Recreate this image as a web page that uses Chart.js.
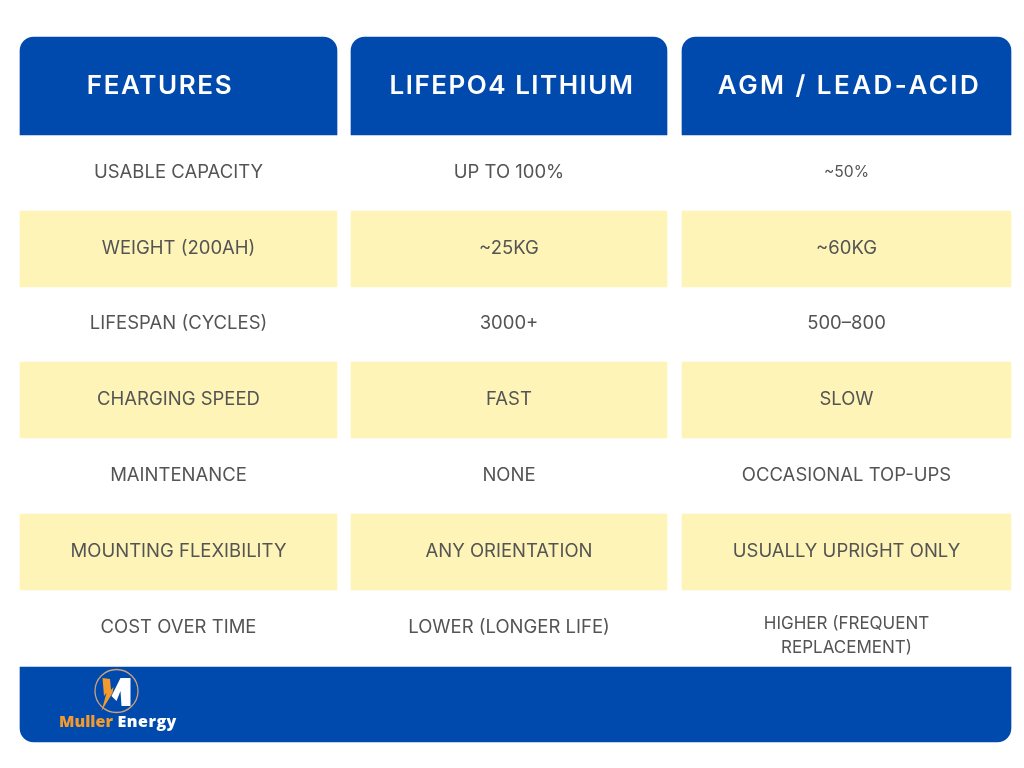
<!DOCTYPE html>
<html>
<head>
<meta charset="utf-8">
<style>
  html, body { margin: 0; padding: 0; background: #ffffff; }
  #wrap { width: 1024px; height: 768px; }
</style>
<script src="https://cdn.jsdelivr.net/npm/chart.js@4"></script>
</head>
<body>
<div id="wrap"><canvas id="table-chart" width="1024" height="768"></canvas></div>
<script>
// Table content
const columns = ['FEATURES', 'LIFEPO4 LITHIUM', 'AGM / LEAD-ACID'];
const features = ['USABLE CAPACITY', 'WEIGHT (200AH)', 'LIFESPAN (CYCLES)', 'CHARGING SPEED', 'MAINTENANCE', 'MOUNTING FLEXIBILITY', 'COST OVER TIME'];
const lithium = ['UP TO 100%', '~25KG', '3000+', 'FAST', 'NONE', 'ANY ORIENTATION', 'LOWER (LONGER LIFE)'];
const leadAcid = ['~50%', '~60KG', '500\u2013800', 'SLOW', 'OCCASIONAL TOP-UPS', 'USUALLY UPRIGHT ONLY', 'HIGHER (FREQUENT\nREPLACEMENT)'];
const brandWords = ['Muller', 'Energy'];

// Layout, in page pixels, the axes below run 0-1024 and 0-768
const colLeft = [20, 351, 682];
const colRight = [337, 667, 1011];
const headerCentre = [160, 512, 849.5];
const headerSpacing = ['1.6px', '1.5px', '2.45px'];
const headerTop = 37;
const rowEdges = [135, 211, 287, 362, 438, 514, 590, 667];
const footerBottom = 742;

const BLUE = '#004aad';
const YELLOW = '#fef4b8';
const TEXT = '#545454';
const ORANGE = '#f29a2e';

const colCells = [features, lithium, leadAcid];

// One dataset per column: header, stripes
const datasets = colLeft.map((left, c) => {
    const centre = (left + colRight[c]) / 2;
    const cells = [{ x: centre, y: [headerTop, rowEdges[0]] }];
    const colors = [BLUE];
    const radius = [{ topLeft: 14, topRight: 14, bottomLeft: 0, bottomRight: 0 }];
    colCells[c].forEach((_, r) => {
        cells.push({ x: centre, y: [rowEdges[r], rowEdges[r + 1]] });
        colors.push(r % 2 === 1 ? YELLOW : 'rgba(0,0,0,0)');
        radius.push(0);
    });
    return {
        data: cells,
        backgroundColor: colors,
        borderRadius: radius,
        borderSkipped: false,
        barThickness: colRight[c] - left,
        grouped: false
    };
});

// Footer band across all columns
datasets.push({
    data: [{ x: (colLeft[0] + colRight[2]) / 2, y: [rowEdges[7], footerBottom] }],
    backgroundColor: BLUE,
    borderRadius: { topLeft: 0, topRight: 0, bottomLeft: 14, bottomRight: 14 },
    borderSkipped: false,
    barThickness: colRight[2] - colLeft[0],
    grouped: false
});

function drawLogo(ctx, xs, ys) {
    const cx = xs.getPixelForValue(116.5);
    const cy = ys.getPixelForValue(691);

    ctx.save();
    ctx.translate(cx, cy);
    ctx.strokeStyle = '#c9a27a';
    ctx.lineWidth = 1.3;
    ctx.beginPath();
    ctx.arc(0, 0, 21.5, 0, Math.PI * 2);
    ctx.stroke();

    // bolt
    ctx.fillStyle = ORANGE;
    ctx.beginPath();
    ctx.moveTo(-14, -13);
    ctx.lineTo(-6.5, -12);
    ctx.lineTo(-5.5, -1);
    ctx.lineTo(-3, -4);
    ctx.lineTo(-4, 2);
    ctx.lineTo(-15, 20);
    ctx.lineTo(-10, 2);
    ctx.lineTo(-12.5, 5);
    ctx.closePath();
    ctx.fill();

    // M
    ctx.fillStyle = '#ffffff';
    ctx.beginPath();
    ctx.moveTo(-5, 5);
    ctx.lineTo(4, -13);
    ctx.lineTo(14, -13);
    ctx.lineTo(14, 15);
    ctx.lineTo(5, 15);
    ctx.lineTo(4, 0);
    ctx.lineTo(0, 10);
    ctx.closePath();
    ctx.fill();
    ctx.restore();

    // wordmark
    ctx.save();
    ctx.font = '800 16px "Open Sans"';
    ctx.textAlign = 'left';
    ctx.textBaseline = 'middle';
    const y = ys.getPixelForValue(722);
    ctx.fillStyle = ORANGE;
    ctx.fillText(brandWords[0], xs.getPixelForValue(59), y);
    ctx.letterSpacing = '0.5px';
    ctx.fillStyle = '#ffffff';
    ctx.fillText(brandWords[1], xs.getPixelForValue(117.5), y);
    ctx.restore();
}

const tableText = {
    id: 'tableText',
    afterDatasetsDraw(chart) {
        const { ctx, scales } = chart;
        const xs = scales.x, ys = scales.y;

        ctx.save();
        ctx.textAlign = 'center';
        ctx.textBaseline = 'middle';

        // headers
        ctx.fillStyle = '#ffffff';
        ctx.font = '600 26px Inter';
        columns.forEach((name, c) => {
            ctx.letterSpacing = headerSpacing[c];
            ctx.fillText(name, xs.getPixelForValue(headerCentre[c]), ys.getPixelForValue(86.5));
        });

        // body cells
        ctx.fillStyle = TEXT;
        ctx.letterSpacing = '0px';
        colCells.forEach((cells, c) => {
            const x = xs.getPixelForValue((colLeft[c] + colRight[c]) / 2);
            cells.forEach((label, r) => {
                const mid = (rowEdges[r] + rowEdges[r + 1]) / 2 - 0.6;
                const lines = label.split('\n');
                let size = 18.5;
                if (c === 2 && r === 0) size = 15.7;
                if (lines.length > 1) size = 17;
                ctx.font = '400 ' + size + 'px Inter';
                lines.forEach((line, i) => {
                    // the two-line cell sits lower than the single-line ones
                    const y = lines.length > 1 ? mid + 8 + (i - 0.5) * 24 : mid;
                    ctx.fillText(line, x, ys.getPixelForValue(y));
                });
            });
        });
        ctx.restore();

        drawLogo(ctx, xs, ys);
    }
};

new Chart(document.getElementById('table-chart'), {
    type: 'bar',
    data: { datasets },
    options: {
        responsive: false,
        animation: false,
        layout: { padding: 0 },
        plugins: { legend: { display: false }, tooltip: { enabled: false } },
        scales: {
            x: { type: 'linear', min: 0, max: 1024, offset: false, display: false },
            y: { type: 'linear', min: 0, max: 768, reverse: true, display: false }
        }
    },
    plugins: [tableText]
});
</script>
</body>
</html>
